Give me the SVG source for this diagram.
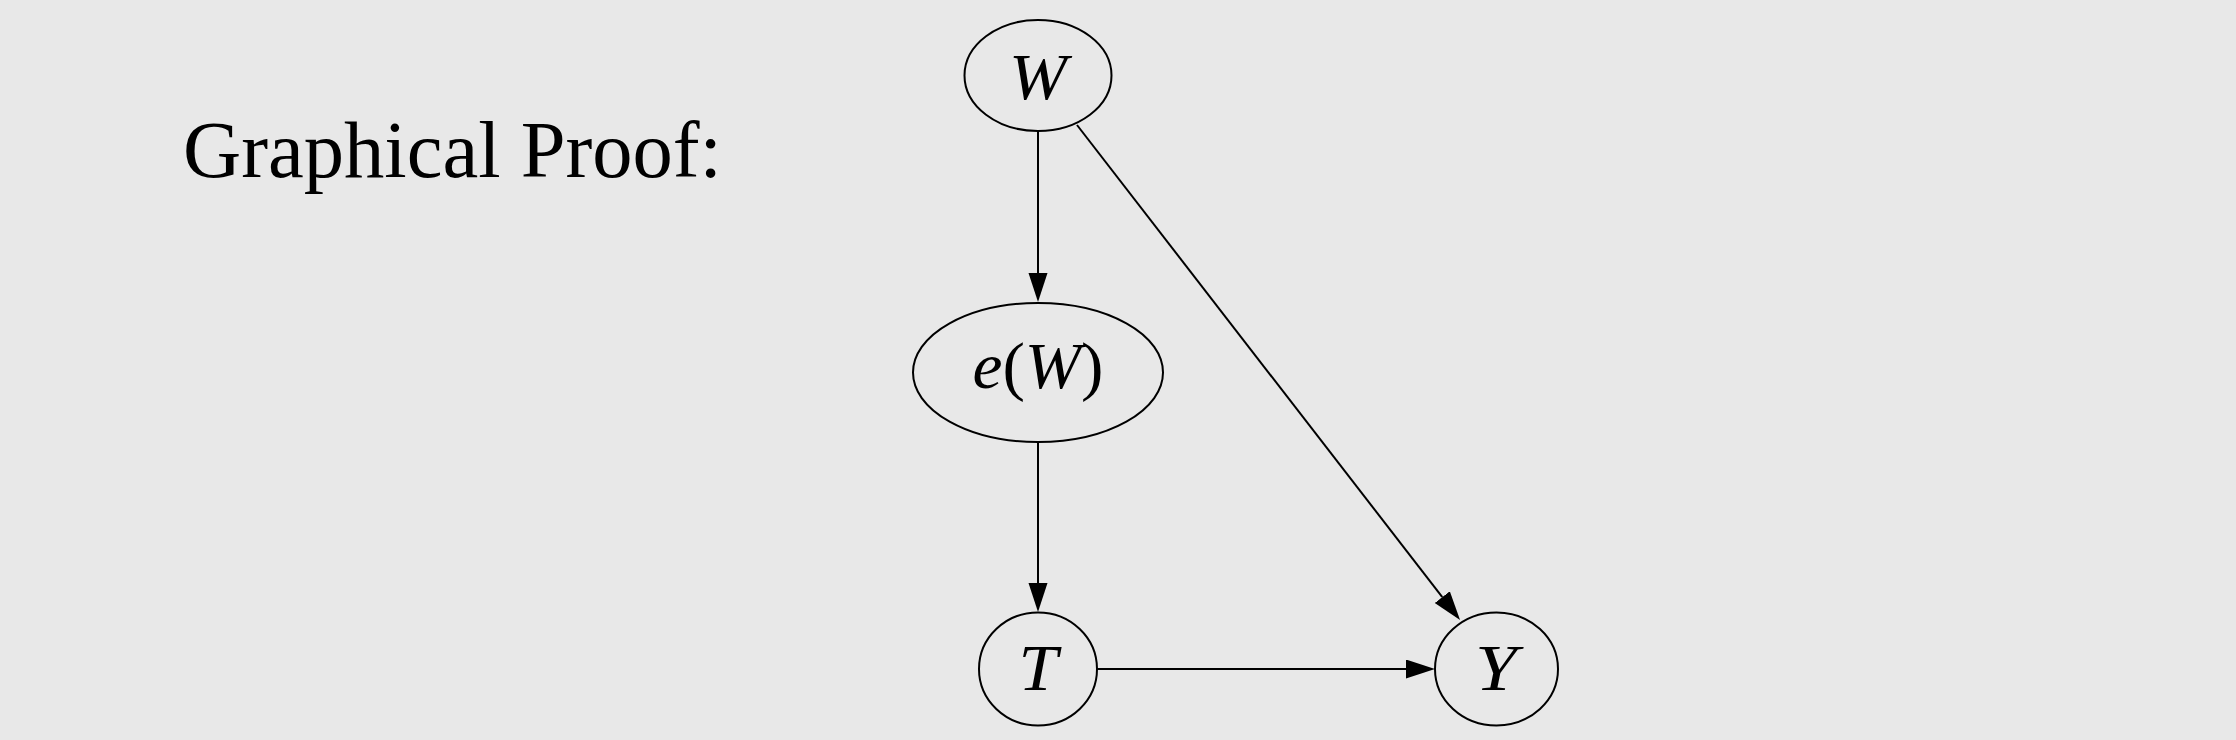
<svg xmlns="http://www.w3.org/2000/svg" width="2236" height="740" viewBox="0 0 2236 740">
  <style>
    .node ellipse { fill: none; stroke: #000; stroke-width: 2; }
    .lbl { font-family: "Liberation Serif", "Times New Roman", serif; font-size: 66px; font-style: italic; fill: #000; text-anchor: middle; }
    .up { font-style: normal; }
    .edge { fill: none; stroke: #000; stroke-width: 2; marker-end: url(#arrow); }
    .title { font-family: "Liberation Serif", "Times New Roman", serif; font-size: 80px; fill: #000; }
  </style>
  <defs>
    <marker id="arrow" markerUnits="userSpaceOnUse" markerWidth="30" markerHeight="20" refX="0" refY="9.5" orient="auto">
      <path d="M0,0 L29,9.5 L0,19 z" fill="#000"/>
    </marker>
  </defs>
  <rect x="0" y="0" width="2236" height="740" fill="#e8e8e8"/>
  <text class="title" x="183" y="177" textLength="539" lengthAdjust="spacingAndGlyphs">Graphical Proof:</text>
  <g id="connectors">
    <path class="edge" d="M1038,131 L1038,273"/>
    <path class="edge" d="M1038,442 L1038,583"/>
    <path class="edge" d="M1097,669 L1406,669"/>
    <path class="edge" d="M1077,125 L1442.3,597.1"/>
  </g>
  <g id="node-W" class="node">
    <ellipse cx="1038" cy="75.5" rx="73.5" ry="55.5"/>
    <text class="lbl" x="1038" y="99" textLength="58" lengthAdjust="spacingAndGlyphs">W</text>
  </g>
  <g id="node-eW" class="node">
    <ellipse cx="1038" cy="372.5" rx="125" ry="69.5"/>
    <text class="lbl" x="1038" y="388" textLength="131" lengthAdjust="spacingAndGlyphs">e<tspan class="up">(</tspan>W<tspan class="up">)</tspan></text>
  </g>
  <g id="node-T" class="node">
    <ellipse cx="1038" cy="669" rx="59" ry="56.5"/>
    <text class="lbl" x="1038" y="690" textLength="39" lengthAdjust="spacingAndGlyphs">T</text>
  </g>
  <g id="node-Y" class="node">
    <ellipse cx="1496.5" cy="669" rx="61.5" ry="56.5"/>
    <text class="lbl" x="1496" y="690" textLength="42" lengthAdjust="spacingAndGlyphs">Y</text>
  </g>
</svg>
